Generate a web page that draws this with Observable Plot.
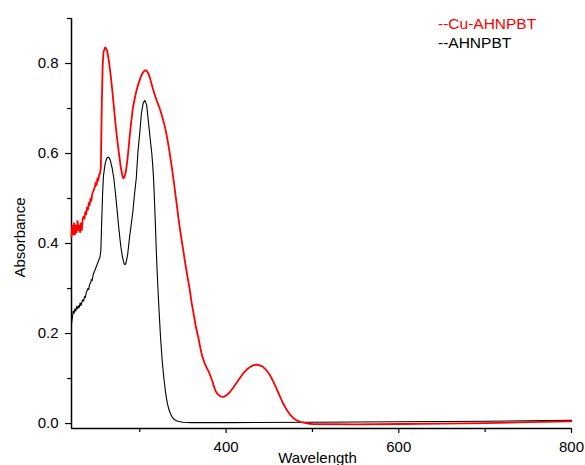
<!DOCTYPE html>
<html>
<head>
<meta charset="utf-8">
<script src="https://cdn.jsdelivr.net/npm/d3@7"></script>
<script src="https://cdn.jsdelivr.net/npm/@observablehq/plot@0.6"></script>
<style>
  html, body { margin: 0; padding: 0; background: #fff; }
  #wrap { position: relative; width: 585px; height: 465px; font-family: "Liberation Sans", Arial, sans-serif; }
  #legend { position: absolute; left: 438px; top: 14px; font-size: 15.5px; line-height: 19px; }
</style>
</head>
<body>
<div id="wrap">
  <div id="chart"></div>
  <div id="legend"></div>
</div>
<script>
// Series names and colours
const seriesNames = ["--Cu-AHNPBT", "--AHNPBT"];
const seriesColors = ["#ff0000", "#000000"];
const xLabel = "Wavelength";
const yLabel = "Absorbance";

// Cu-AHNPBT spectrum (wavelength nm, absorbance)
const cuWavelength = [221,222,223,224,225,226,227,228,229,230,231,232,233,234,235,236,237,238,239,240,241,242,243,244,245,246,247,248,249,250,251,252,253,254,255,256,257,258,260,262,264,266,268,270,272,274,276,278,280,281,282,284,286,288,290,292,294,296,298,300,302,304,306,308,310,312,314,316,318,320,322,324,326,328,330,332,334,336,338,340,342,344,346,348,350,352,355,358,360,362,365,368,370,372,375,378,380,382,384,386,388,390,393,396,398,400,404,408,412,416,420,424,428,432,436,438,442,446,450,454,458,462,466,470,474,478,482,486,490,495,500,550,600,650,700,750,800];
const cuAbsorbance = [0.415,0.44,0.42,0.445,0.42,0.44,0.425,0.45,0.43,0.44,0.425,0.445,0.43,0.455,0.46,0.455,0.47,0.465,0.48,0.475,0.49,0.485,0.5,0.495,0.51,0.515,0.52,0.525,0.535,0.53,0.545,0.54,0.553,0.555,0.57,0.7,0.79,0.825,0.836,0.83,0.81,0.78,0.745,0.705,0.665,0.63,0.6,0.57,0.55,0.545,0.546,0.56,0.59,0.63,0.668,0.7,0.72,0.738,0.752,0.763,0.774,0.781,0.785,0.784,0.778,0.767,0.752,0.739,0.727,0.716,0.706,0.695,0.682,0.668,0.652,0.632,0.61,0.585,0.558,0.53,0.5,0.47,0.44,0.415,0.39,0.365,0.33,0.297,0.27,0.248,0.215,0.19,0.17,0.152,0.135,0.122,0.115,0.105,0.095,0.082,0.072,0.066,0.061,0.059,0.06,0.062,0.069,0.079,0.09,0.101,0.112,0.12,0.126,0.13,0.131,0.13,0.127,0.12,0.11,0.096,0.08,0.062,0.045,0.031,0.02,0.012,0.007,0.004,0.002,0.0,-0.001,-0.002,-0.001,0.0,0.001,0.003,0.005];

// AHNPBT spectrum (wavelength nm, absorbance)
const ahWavelength = [221,222,223,224,225,226,227,228,229,230,231,232,233,234,235,236,237,238,239,240,241,242,243,244,245,246,247,248,249,250,251,252,253,254,255,256,257,258,260,262,264,266,268,270,272,274,276,278,280,282,283,284,286,288,290,292,294,296,298,300,302,304,306,308,310,312,314,315,316,317,318,319,320,322,324,326,328,330,332,334,336,338,340,344,350,360,400,500,600,700,800];
const ahAbsorbance = [0.222,0.235,0.25,0.245,0.255,0.25,0.26,0.255,0.262,0.258,0.268,0.262,0.27,0.275,0.272,0.282,0.28,0.29,0.295,0.3,0.298,0.31,0.312,0.32,0.318,0.33,0.335,0.34,0.345,0.35,0.355,0.36,0.365,0.37,0.385,0.45,0.51,0.55,0.578,0.59,0.592,0.585,0.568,0.545,0.51,0.47,0.43,0.395,0.37,0.355,0.353,0.356,0.375,0.41,0.44,0.47,0.51,0.545,0.605,0.645,0.69,0.712,0.718,0.708,0.672,0.635,0.6,0.575,0.545,0.5,0.45,0.395,0.345,0.265,0.195,0.14,0.1,0.068,0.045,0.03,0.02,0.013,0.009,0.005,0.003,0.002,0.002,0.003,0.004,0.005,0.007];

// Axis ticks
const xMajorTicks = [400, 600, 800];
const xMinorTicks = [300, 500, 700];
const yMajorTicks = [0.0, 0.2, 0.4, 0.6, 0.8];
const yMinorTicks = [0.1, 0.3, 0.5, 0.7, 0.9];
const xDomain = [221, 800];
const yDomain = [-0.011, 0.9];

const cu = cuWavelength.map((w, i) => ({w, a: cuAbsorbance[i]}));
const ah = ahWavelength.map((w, i) => ({w, a: ahAbsorbance[i]}));

const chart = Plot.plot({
  width: 585,
  height: 465,
  marginLeft: 71,
  marginRight: 14,
  marginTop: 18,
  marginBottom: 37,
  style: {fontFamily: "'Liberation Sans', Arial, sans-serif", fontSize: "15px", color: "#000", background: "#fff"},
  x: {domain: xDomain},
  y: {domain: yDomain},
  marks: [
    Plot.axisX({ticks: xMinorTicks, tickSize: 4, text: null, label: null, strokeWidth: 1.2}),
    Plot.axisX({ticks: xMajorTicks, tickSize: 5, tickFormat: d => String(d), tickPadding: 8, label: null, strokeWidth: 1.2}),
    Plot.axisY({ticks: yMinorTicks, tickSize: 4, text: null, label: null, strokeWidth: 1.2}),
    Plot.axisY({ticks: yMajorTicks, tickSize: 6, tickFormat: d3.format(".1f"), tickPadding: 7, label: null, strokeWidth: 1.2}),
    Plot.text([yLabel], {text: d => d, frameAnchor: "left", rotate: -90, dx: -51, dy: 14, textAnchor: "middle", lineAnchor: "middle", fontSize: 15, fill: "#000"}),
    Plot.text([xLabel], {text: d => d, frameAnchor: "bottom", dx: -4, dy: 34, textAnchor: "middle", lineAnchor: "bottom", fontSize: 15, fill: "#000"}),
    Plot.ruleX([xDomain[0]], {stroke: "#000", strokeWidth: 1.5}),
    Plot.ruleY([yDomain[0]], {stroke: "#000", strokeWidth: 1.5}),
    Plot.line(ah, {x: "w", y: "a", stroke: seriesColors[1], strokeWidth: 1.1}),
    Plot.line(cu, {x: "w", y: "a", stroke: seriesColors[0], strokeWidth: 1.8})
  ]
});
document.getElementById("chart").appendChild(chart);

const legend = document.getElementById("legend");
seriesNames.forEach((n, i) => {
  const d = document.createElement("div");
  d.textContent = n;
  d.style.color = seriesColors[i];
  legend.appendChild(d);
});
</script>
</body>
</html>
